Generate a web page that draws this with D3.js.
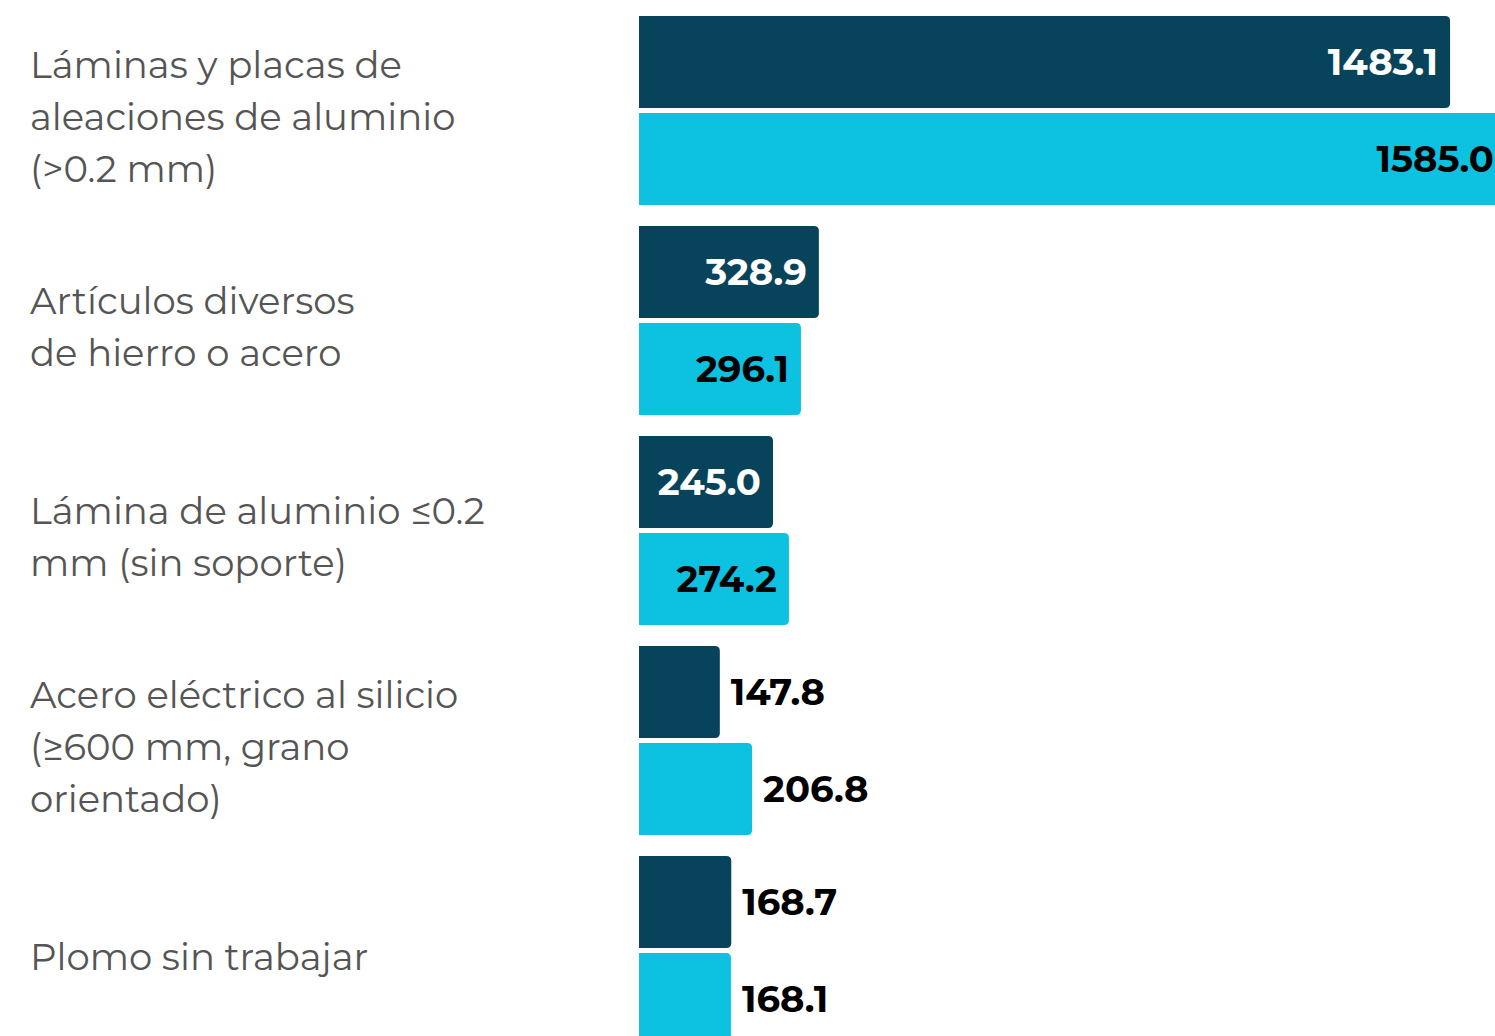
<!DOCTYPE html>
<html>
<head>
<meta charset="utf-8">
<script src="https://cdn.jsdelivr.net/npm/d3@7"></script>
<style>
  body { margin: 0; background: #fff; overflow: hidden; }
</style>
</head>
<body>
<div id="chart"></div>
<script>
const categories = [
    ["Láminas y placas de", "aleaciones de aluminio", "(>0.2 mm)"],
    ["Artículos diversos", "de hierro o acero"],
    ["Lámina de aluminio ≤0.2", "mm (sin soporte)"],
    ["Acero eléctrico al silicio", "(≥600 mm, grano", "orientado)"],
    ["Plomo sin trabajar"]
];
const seriesNames = ["anterior", "actual"];
const seriesA = [1483.1, 328.9, 245.0, 147.8, 168.7];
const seriesB = [1585.0, 296.1, 274.2, 206.8, 168.1];
const colors = ["#08435c", "#0dc1e0"];

const width = 1495, height = 1060;
const left = 639;

const svg = d3.select("#chart")
    .append("svg")
    .attr("width", width)
    .attr("height", height);

const rows = categories.map((c, i) => ({
    idx: i,
    lines: c,
    values: [seriesA[i], seriesB[i]]
}));

const x = d3.scaleLinear()
    .domain([0, 1600])
    .range([0, 875]);

const y = d3.scaleBand()
    .domain(rows.map(d => d.idx))
    .range([5.5, 1055.5])
    .paddingInner(0.1)
    .paddingOuter(0.05);

const ySub = d3.scaleBand()
    .domain(seriesNames)
    .range([0, y.bandwidth()])
    .paddingInner(5 / 97);

// bar with rounded right corners
function barPath(w, h, r) {
    r = Math.min(r, w);
    return `M0,0H${w - r}Q${w},0 ${w},${r}V${h - r}Q${w},${h} ${w - r},${h}H0Z`;
}

const g = svg.append("g").attr("transform", `translate(${left},0)`);

const groups = g.selectAll("g.row")
    .data(rows)
    .enter()
    .append("g")
    .attr("class", "row")
    .attr("transform", d => `translate(0,${y(d.idx)})`);

const bars = groups.selectAll("g.bar")
    .data(d => d.values.map((v, j) => ({ v, j, name: seriesNames[j] })))
    .enter()
    .append("g")
    .attr("class", "bar")
    .attr("transform", d => `translate(0,${ySub(d.name)})`);

bars.append("path")
    .attr("d", d => barPath(x(d.v), ySub.bandwidth(), 5))
    .attr("fill", d => colors[d.j]);

//Value labels
bars.append("text")
    .attr("y", ySub.bandwidth() / 2)
    .attr("dy", "0.35em")
    .style("font-family", "Montserrat, 'Open Sans', sans-serif")
    .style("font-weight", 700)
    .style("font-size", "37px")
    .text(d => d.v.toFixed(1))
    .each(function(d) {
        const tw = this.getComputedTextLength();
        const bw = x(d.v);
        const t = d3.select(this);
        if (tw + 20 < bw) {
            t.attr("x", bw - 12)
                .attr("text-anchor", "end")
                .attr("fill", d.j === 0 ? "#fff" : "#000");
        } else {
            t.attr("x", bw + 11)
                .attr("text-anchor", "start")
                .attr("fill", "#000");
        }
    });

//Category labels
const lineH = 52;
svg.selectAll("text.cat")
    .data(rows)
    .enter()
    .append("text")
    .attr("class", "cat")
    .attr("x", 30)
    .style("font-family", "Montserrat, 'Open Sans', sans-serif")
    .style("font-size", "37px")
    .attr("fill", "#555")
    .each(function(d) {
        const cy = y(d.idx) + y.bandwidth() / 2 + 7;
        const n = d.lines.length;
        d3.select(this).selectAll("tspan")
            .data(d.lines)
            .enter()
            .append("tspan")
            .attr("x", 30)
            .attr("y", (l, k) => cy + (k - (n - 1) / 2) * lineH)
            .attr("dy", "0.35em")
            .text(l => l);
    });
</script>
</body>
</html>
